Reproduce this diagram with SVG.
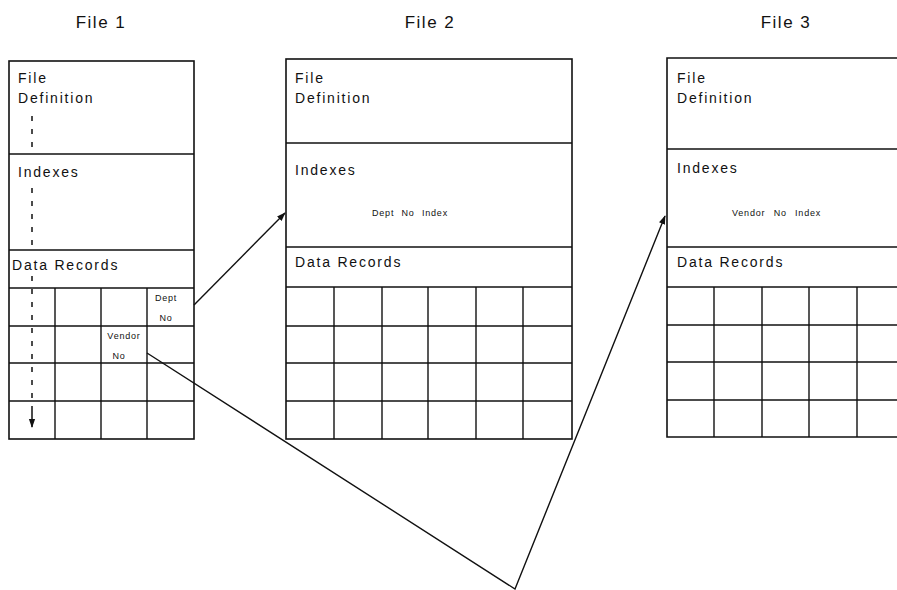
<svg xmlns="http://www.w3.org/2000/svg" width="897" height="590" viewBox="0 0 897 590">
<style>
.bx{fill:none;stroke:#111;stroke-width:1.6}
.ln{stroke:#111;stroke-width:1.4;fill:none}
.t{font-family:"Liberation Sans",Arial,sans-serif;font-size:14px;letter-spacing:1.8px;fill:#111}
.h{font-family:"Liberation Sans",Arial,sans-serif;font-size:17px;letter-spacing:1.5px;fill:#111}
.s{font-family:"Liberation Sans",Arial,sans-serif;font-size:9px;letter-spacing:0.8px;fill:#111}
.c{stroke:#111;stroke-width:1.4;fill:none}
</style>
<defs>
<marker id="ah" viewBox="0 0 10 10" refX="9" refY="5" markerWidth="9" markerHeight="9" orient="auto" markerUnits="userSpaceOnUse">
<path d="M0,1.5 L10,5 L0,8.5 Z" fill="#111"/>
</marker>
</defs>
<rect width="897" height="590" fill="#fff"/>
<text class="h" x="101" y="28" text-anchor="middle">File 1</text>
<text class="h" x="430" y="28" text-anchor="middle">File 2</text>
<text class="h" x="786" y="28" text-anchor="middle">File 3</text>

<g id="file1">
<rect class="bx" x="9" y="61" width="185" height="378"/>
<line class="ln" x1="9" y1="154" x2="194" y2="154"/>
<line class="ln" x1="9" y1="250" x2="194" y2="250"/>
<line class="ln" x1="9" y1="288" x2="194" y2="288"/>
<line class="ln" x1="9" y1="326" x2="194" y2="326"/>
<line class="ln" x1="9" y1="363" x2="194" y2="363"/>
<line class="ln" x1="9" y1="401" x2="194" y2="401"/>
<line class="ln" x1="55" y1="288" x2="55" y2="439"/>
<line class="ln" x1="101" y1="288" x2="101" y2="439"/>
<line class="ln" x1="147" y1="288" x2="147" y2="439"/>
<text class="t" x="18" y="83">File</text>
<text class="t" x="18" y="103">Definition</text>
<text class="t" x="18" y="177">Indexes</text>
<text class="t" x="12" y="270">Data Records</text>
<text class="s" x="166" y="301" text-anchor="middle">Dept</text>
<text class="s" x="166" y="321" text-anchor="middle">No</text>
<text class="s" x="124" y="339" text-anchor="middle" letter-spacing="0.5">Vendor</text>
<text class="s" x="119" y="359" text-anchor="middle">No</text>
<g stroke="#111" stroke-width="1.5" stroke-dasharray="5,8">
<line x1="32" y1="116" x2="32" y2="153"/>
<line x1="32" y1="188" x2="32" y2="248"/>
<line x1="32" y1="276" x2="32" y2="410"/>
</g>
<line x1="32" y1="410" x2="32" y2="427" stroke="#111" stroke-width="1.5" marker-end="url(#ah)"/>
</g>

<g id="file2">
<rect class="bx" x="286" y="59" width="286" height="380"/>
<line class="ln" x1="286" y1="143" x2="572" y2="143"/>
<line class="ln" x1="286" y1="247" x2="572" y2="247"/>
<line class="ln" x1="286" y1="287" x2="572" y2="287"/>
<line class="ln" x1="286" y1="326" x2="572" y2="326"/>
<line class="ln" x1="286" y1="363" x2="572" y2="363"/>
<line class="ln" x1="286" y1="401" x2="572" y2="401"/>
<line class="ln" x1="334" y1="287" x2="334" y2="439"/>
<line class="ln" x1="382" y1="287" x2="382" y2="439"/>
<line class="ln" x1="428" y1="287" x2="428" y2="439"/>
<line class="ln" x1="476" y1="287" x2="476" y2="439"/>
<line class="ln" x1="523" y1="287" x2="523" y2="439"/>
<text class="t" x="295" y="83">File</text>
<text class="t" x="295" y="103">Definition</text>
<text class="t" x="295" y="175">Indexes</text>
<text class="s" x="372" y="216" word-spacing="4">Dept No Index</text>
<text class="t" x="295" y="267">Data Records</text>
</g>

<g id="file3">
<path class="bx" d="M900,58 H667 V437 H900"/>
<line class="ln" x1="667" y1="149" x2="897" y2="149"/>
<line class="ln" x1="667" y1="247" x2="897" y2="247"/>
<line class="ln" x1="667" y1="287" x2="897" y2="287"/>
<line class="ln" x1="667" y1="325" x2="897" y2="325"/>
<line class="ln" x1="667" y1="362" x2="897" y2="362"/>
<line class="ln" x1="667" y1="400" x2="897" y2="400"/>
<line class="ln" x1="714" y1="287" x2="714" y2="437"/>
<line class="ln" x1="762" y1="287" x2="762" y2="437"/>
<line class="ln" x1="809" y1="287" x2="809" y2="437"/>
<line class="ln" x1="857" y1="287" x2="857" y2="437"/>
<text class="t" x="677" y="83">File</text>
<text class="t" x="677" y="103">Definition</text>
<text class="t" x="677" y="173">Indexes</text>
<text class="s" x="732" y="216" word-spacing="5">Vendor No Index</text>
<text class="t" x="677" y="267">Data Records</text>
</g>

<g id="connectors">
<line class="c" x1="194" y1="305" x2="285" y2="213" marker-end="url(#ah)"/>
<polyline class="c" points="147,353 515,589 665,216" marker-end="url(#ah)"/>
</g>
</svg>
